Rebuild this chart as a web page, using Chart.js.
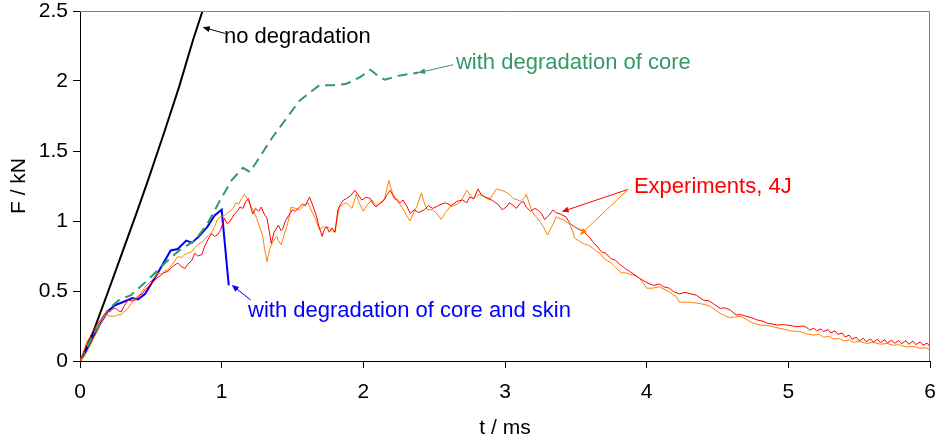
<!DOCTYPE html>
<html>
<head>
<meta charset="utf-8">
<script src="https://cdn.jsdelivr.net/npm/chart.js@4.4.1/dist/chart.umd.min.js"></script>
<style>
  html, body { margin: 0; padding: 0; background: #fff; }
  #wrap { width: 937px; height: 441px; }
</style>
</head>
<body>
<div id="wrap"><canvas id="forceChart"></canvas></div>
<script>
/* --------------------------------------
   DATA  (t in ms, F in kN)
-------------------------------------- */
const noDegradation = [
  [0, 0], [0.08, 0.17], [0.2, 0.5], [0.3, 0.78], [0.4, 1.06], [0.48, 1.29],
  [0.6, 1.65], [0.7, 1.96], [0.8, 2.3], [0.865, 2.5],
];

const coreDegradation = [
  [0, 0], [0.1, 0.2], [0.2, 0.37], [0.28, 0.44], [0.36, 0.47], [0.48, 0.58],
  [0.6, 0.7], [0.7, 0.79], [0.81, 0.86], [0.9, 0.98], [0.99, 1.15], [1.07, 1.29],
  [1.15, 1.38], [1.2, 1.35], [1.36, 1.6], [1.55, 1.86], [1.69, 1.97], [1.79, 1.97],
  [1.88, 1.98], [1.98, 2.03], [2.05, 2.08], [2.1, 2.04], [2.15, 2.01], [2.26, 2.04],
  [2.39, 2.06],
];

const coreSkinDegradation = [
  [0, 0], [0.06, 0.1], [0.13, 0.245], [0.2, 0.36], [0.25, 0.4], [0.3, 0.42],
  [0.37, 0.45], [0.41, 0.44], [0.46, 0.48], [0.55, 0.63], [0.64, 0.79], [0.69, 0.8],
  [0.75, 0.86], [0.79, 0.845], [0.84, 0.89], [0.9, 0.96], [0.95, 1.04], [1.0, 1.08],
  [1.05, 0.54],
];

const experimentRed = [
  [0, 0], [0.02, 0.04], [0.045, 0.126], [0.07, 0.17], [0.1, 0.23], [0.127, 0.27],
  [0.15, 0.3], [0.17, 0.33], [0.186, 0.34], [0.2, 0.36], [0.21, 0.35], [0.23, 0.37],
  [0.25, 0.376], [0.27, 0.36], [0.29, 0.35], [0.31, 0.39], [0.34, 0.436], [0.37, 0.43],
  [0.4, 0.44], [0.42, 0.47], [0.44, 0.48], [0.46, 0.51], [0.48, 0.53], [0.5, 0.55],
  [0.52, 0.57], [0.55, 0.6], [0.57, 0.61], [0.59, 0.63], [0.62, 0.64], [0.64, 0.66],
  [0.66, 0.68], [0.69, 0.7], [0.71, 0.68], [0.74, 0.66], [0.76, 0.69], [0.79, 0.72],
  [0.81, 0.77], [0.83, 0.75], [0.86, 0.76], [0.88, 0.82], [0.89, 0.84], [0.91, 0.88],
  [0.93, 0.91], [0.95, 0.89], [0.97, 0.9], [0.99, 0.93], [1.02, 1.02], [1.04, 0.98],
  [1.06, 1.0], [1.09, 1.05], [1.11, 1.07], [1.13, 1.1], [1.15, 1.09], [1.17, 1.14],
  [1.19, 1.16], [1.21, 1.08], [1.22, 1.05], [1.24, 1.09], [1.26, 1.07], [1.28, 1.1],
  [1.3, 1.05], [1.32, 1.02], [1.34, 0.9], [1.35, 0.84], [1.37, 0.92], [1.4, 0.97],
  [1.42, 0.93], [1.43, 0.94], [1.45, 1.0], [1.48, 1.05], [1.5, 1.08], [1.52, 1.07],
  [1.55, 1.1], [1.57, 1.12], [1.59, 1.11], [1.62, 1.17], [1.64, 1.12], [1.67, 1.03],
  [1.69, 0.95], [1.71, 0.89], [1.72, 0.93], [1.74, 0.96], [1.76, 0.92], [1.78, 0.95],
  [1.8, 0.92], [1.82, 1.08], [1.84, 1.12], [1.86, 1.15], [1.88, 1.16], [1.91, 1.18],
  [1.94, 1.22], [1.96, 1.19], [1.99, 1.15], [2.02, 1.17], [2.05, 1.16], [2.07, 1.12],
  [2.09, 1.1], [2.11, 1.12], [2.14, 1.14], [2.17, 1.19], [2.19, 1.22], [2.21, 1.18],
  [2.22, 1.16], [2.24, 1.15], [2.26, 1.13], [2.28, 1.15], [2.31, 1.1], [2.33, 1.055],
  [2.36, 1.08], [2.39, 1.06], [2.43, 1.08], [2.46, 1.11], [2.49, 1.09], [2.51, 1.1],
  [2.55, 1.12], [2.58, 1.13], [2.62, 1.11], [2.66, 1.14], [2.7, 1.15], [2.73, 1.13],
  [2.75, 1.17], [2.78, 1.16], [2.81, 1.23], [2.83, 1.19], [2.86, 1.17], [2.89, 1.16],
  [2.92, 1.14], [2.95, 1.12], [2.98, 1.08], [3.01, 1.1], [3.03, 1.13], [3.06, 1.11],
  [3.08, 1.09], [3.11, 1.13], [3.13, 1.14], [3.15, 1.1], [3.18, 1.07], [3.21, 1.09],
  [3.23, 1.08], [3.26, 1.05], [3.28, 1.01], [3.31, 1.04], [3.34, 1.08], [3.36, 1.06],
  [3.39, 1.05], [3.43, 1.03], [3.46, 0.98], [3.49, 0.96], [3.52, 0.94], [3.55, 0.93],
  [3.58, 0.9], [3.6, 0.88], [3.62, 0.85], [3.65, 0.82], [3.68, 0.78], [3.71, 0.77],
  [3.75, 0.73], [3.78, 0.72], [3.81, 0.69], [3.85, 0.66], [3.88, 0.64], [3.91, 0.62],
  [3.95, 0.59], [4.0, 0.56], [4.05, 0.54], [4.09, 0.55], [4.12, 0.53], [4.16, 0.52],
  [4.19, 0.495], [4.23, 0.48], [4.27, 0.49], [4.31, 0.48], [4.35, 0.47], [4.4, 0.435],
  [4.44, 0.43], [4.47, 0.41], [4.52, 0.376], [4.55, 0.38], [4.59, 0.364], [4.63, 0.33],
  [4.67, 0.33], [4.7, 0.32], [4.74, 0.31], [4.78, 0.293], [4.82, 0.285], [4.85, 0.27],
  [4.88, 0.265], [4.92, 0.257], [4.96, 0.26], [4.99, 0.257], [5.03, 0.25], [5.06, 0.245],
  [5.1, 0.25], [5.13, 0.24], [5.15, 0.22], [5.18, 0.235], [5.2, 0.215], [5.23, 0.23],
  [5.25, 0.21], [5.28, 0.225], [5.3, 0.2], [5.33, 0.215], [5.35, 0.19], [5.38, 0.2],
  [5.4, 0.172], [5.43, 0.185], [5.45, 0.155], [5.48, 0.17], [5.5, 0.145], [5.53, 0.162],
  [5.55, 0.138], [5.58, 0.158], [5.6, 0.135], [5.63, 0.155], [5.65, 0.131], [5.68, 0.152],
  [5.7, 0.128], [5.73, 0.15], [5.75, 0.126], [5.78, 0.147], [5.8, 0.123], [5.83, 0.145],
  [5.85, 0.12], [5.88, 0.142], [5.9, 0.117], [5.93, 0.138], [5.95, 0.112], [5.98, 0.128],
  [6.0, 0.1],
];

const experimentOrange = [
  [0, 0], [0.03, 0.03], [0.056, 0.08], [0.08, 0.13], [0.1, 0.17], [0.127, 0.22],
  [0.15, 0.27], [0.17, 0.32], [0.19, 0.33], [0.21, 0.32], [0.245, 0.32], [0.27, 0.33],
  [0.29, 0.33], [0.31, 0.35], [0.34, 0.376], [0.36, 0.41], [0.39, 0.45], [0.42, 0.47],
  [0.44, 0.5], [0.46, 0.53], [0.49, 0.56], [0.52, 0.59], [0.55, 0.63], [0.58, 0.62],
  [0.6, 0.645], [0.62, 0.65], [0.65, 0.69], [0.69, 0.745], [0.72, 0.74], [0.74, 0.76],
  [0.76, 0.77], [0.79, 0.78], [0.81, 0.81], [0.83, 0.83], [0.86, 0.85], [0.89, 0.88],
  [0.91, 0.9], [0.93, 0.92], [0.95, 0.96], [0.97, 1.01], [0.99, 1.03], [1.02, 1.04],
  [1.04, 1.06], [1.06, 1.07], [1.08, 1.09], [1.1, 1.13], [1.12, 1.12], [1.14, 1.16],
  [1.16, 1.19], [1.18, 1.16], [1.21, 1.1], [1.23, 1.06], [1.25, 1.01], [1.27, 0.95],
  [1.29, 0.89], [1.3, 0.82], [1.32, 0.71], [1.33, 0.76], [1.34, 0.8], [1.36, 0.85],
  [1.39, 0.89], [1.4, 0.86], [1.42, 0.83], [1.44, 0.9], [1.46, 0.96], [1.48, 1.04],
  [1.49, 1.1], [1.52, 1.09], [1.55, 1.08], [1.58, 1.11], [1.61, 1.13], [1.63, 1.08],
  [1.66, 1.02], [1.69, 0.94], [1.72, 0.96], [1.76, 0.95], [1.78, 0.93], [1.8, 0.92],
  [1.83, 1.1], [1.86, 1.12], [1.88, 1.13], [1.92, 1.09], [1.95, 1.19], [1.97, 1.13],
  [2.0, 1.07], [2.03, 1.12], [2.06, 1.15], [2.09, 1.11], [2.12, 1.13], [2.15, 1.16],
  [2.18, 1.29], [2.19, 1.25], [2.21, 1.19], [2.25, 1.13], [2.27, 1.1], [2.29, 1.07],
  [2.31, 1.03], [2.33, 1.0], [2.35, 1.05], [2.38, 1.11], [2.41, 1.2], [2.43, 1.13],
  [2.45, 1.08], [2.49, 1.08], [2.52, 1.05], [2.55, 1.01], [2.58, 1.06], [2.61, 1.1],
  [2.64, 1.11], [2.68, 1.13], [2.71, 1.18], [2.73, 1.22], [2.76, 1.18], [2.78, 1.16],
  [2.8, 1.18], [2.82, 1.19], [2.86, 1.17], [2.89, 1.15], [2.92, 1.2], [2.94, 1.23],
  [2.97, 1.22], [3.0, 1.21], [3.03, 1.19], [3.06, 1.16], [3.09, 1.15], [3.11, 1.14],
  [3.14, 1.17], [3.15, 1.19], [3.18, 1.1], [3.19, 1.07], [3.21, 1.04], [3.23, 1.02],
  [3.25, 0.99], [3.27, 0.96], [3.3, 0.9], [3.32, 0.94], [3.34, 0.98], [3.36, 1.03],
  [3.38, 1.02], [3.41, 1.01], [3.44, 0.99], [3.46, 0.97], [3.48, 0.92], [3.49, 0.88],
  [3.52, 0.86], [3.55, 0.84], [3.58, 0.83], [3.6, 0.82], [3.64, 0.79], [3.67, 0.77],
  [3.7, 0.73], [3.75, 0.7], [3.78, 0.67], [3.82, 0.63], [3.85, 0.63], [3.88, 0.62],
  [3.92, 0.61], [3.95, 0.59], [3.98, 0.55], [4.0, 0.52], [4.04, 0.52], [4.09, 0.53],
  [4.13, 0.51], [4.16, 0.495], [4.19, 0.47], [4.21, 0.46], [4.23, 0.42], [4.27, 0.42],
  [4.3, 0.42], [4.34, 0.415], [4.38, 0.41], [4.42, 0.4], [4.45, 0.39], [4.49, 0.36],
  [4.52, 0.34], [4.56, 0.32], [4.59, 0.31], [4.63, 0.315], [4.66, 0.32], [4.7, 0.3],
  [4.73, 0.28], [4.77, 0.265], [4.8, 0.257], [4.84, 0.255], [4.87, 0.25], [4.91, 0.24],
  [4.94, 0.233], [4.98, 0.225], [5.01, 0.216], [5.05, 0.213], [5.08, 0.21], [5.13, 0.193],
  [5.18, 0.185], [5.22, 0.19], [5.25, 0.17], [5.29, 0.175], [5.32, 0.157], [5.36, 0.16],
  [5.39, 0.146], [5.43, 0.15], [5.46, 0.133], [5.5, 0.14], [5.55, 0.126], [5.6, 0.132],
  [5.65, 0.12], [5.7, 0.125], [5.74, 0.112], [5.78, 0.116], [5.83, 0.1], [5.88, 0.105],
  [5.93, 0.09], [5.97, 0.095], [6.0, 0.08],
];

const xTicks = [0, 1, 2, 3, 4, 5, 6];
const yTicks = [0, 0.5, 1, 1.5, 2, 2.5];

/* annotation texts with arrows (data coordinates) */
const notes = [
  { text: "no degradation", color: "#000000", at: [1.016, 2.269],
    arrows: [{ from: [1.023, 2.34], to: [0.866, 2.384], color: "#000000" }] },
  { text: "with degradation of core", color: "#339966", at: [2.654, 2.083],
    arrows: [{ from: [2.634, 2.116], to: [2.387, 2.059], color: "#339966" }] },
  { text: "Experiments, 4J", color: "#ff0000", at: [3.91, 1.198],
    arrows: [
      { from: [3.869, 1.226], to: [3.4, 1.066], color: "#ff0000" },
      { from: [3.869, 1.226], to: [3.529, 0.9], color: "#ff8000" },
    ] },
  { text: "with degradation of core and skin", color: "#0000ff", at: [1.186, 0.312],
    arrows: [{ from: [1.205, 0.436], to: [1.071, 0.543], color: "#0000ff" }] },
];

const FONT = '"Liberation Sans", Arial, sans-serif';

function toXY(pairs) {
  return pairs.map((p) => ({ x: p[0], y: p[1] }));
}

function drawArrow(ctx, x1, y1, x2, y2, color) {
  const ang = Math.atan2(y2 - y1, x2 - x1);
  const len = 7, wid = 3;
  ctx.strokeStyle = color;
  ctx.fillStyle = color;
  ctx.lineWidth = 1;
  ctx.beginPath();
  ctx.moveTo(x1, y1);
  ctx.lineTo(x2 - Math.cos(ang) * len * 0.6, y2 - Math.sin(ang) * len * 0.6);
  ctx.stroke();
  ctx.beginPath();
  ctx.moveTo(x2, y2);
  ctx.lineTo(x2 - Math.cos(ang) * len - Math.sin(ang) * wid, y2 - Math.sin(ang) * len + Math.cos(ang) * wid);
  ctx.lineTo(x2 - Math.cos(ang) * len + Math.sin(ang) * wid, y2 - Math.sin(ang) * len - Math.cos(ang) * wid);
  ctx.closePath();
  ctx.fill();
}

/* plot frame (top/right) + annotations */
const frameAndNotes = {
  id: "frameAndNotes",
  afterDatasetsDraw(chart) {
    const { ctx, chartArea: a, scales } = chart;
    const sx = scales.x, sy = scales.y;
    ctx.save();
    ctx.strokeStyle = "#808080";
    ctx.lineWidth = 1;
    ctx.beginPath();
    ctx.moveTo(a.left, a.top + 0.5);
    ctx.lineTo(a.right - 0.5, a.top + 0.5);
    ctx.lineTo(a.right - 0.5, a.bottom);
    ctx.stroke();

    ctx.font = "22px " + FONT;
    ctx.textBaseline = "alphabetic";
    ctx.textAlign = "left";
    notes.forEach((n) => {
      ctx.fillStyle = n.color;
      ctx.fillText(n.text, sx.getPixelForValue(n.at[0]), sy.getPixelForValue(n.at[1]));
      n.arrows.forEach((ar) => {
        drawArrow(
          ctx,
          sx.getPixelForValue(ar.from[0]), sy.getPixelForValue(ar.from[1]),
          sx.getPixelForValue(ar.to[0]), sy.getPixelForValue(ar.to[1]),
          ar.color
        );
      });
    });
    ctx.restore();
  },
};

function lineSet(label, pairs, color, width, extra) {
  return Object.assign(
    {
      label,
      data: toXY(pairs),
      borderColor: color,
      backgroundColor: color,
      borderWidth: width,
      pointRadius: 0,
      tension: 0,
      fill: false,
    },
    extra || {}
  );
}

new Chart(document.getElementById("forceChart"), {
  type: "line",
  data: {
    datasets: [
      lineSet("Experiment A", experimentRed, "#ff0000", 1),
      lineSet("Experiment B", experimentOrange, "#ff8000", 1),
      lineSet("with degradation of core", coreDegradation, "#339966", 2, { borderDash: [10, 6] }),
      lineSet("with degradation of core and skin", coreSkinDegradation, "#0000ff", 2),
      lineSet("no degradation", noDegradation, "#000000", 2),
    ],
  },
  options: {
    responsive: true,
    maintainAspectRatio: false,
    animation: false,
    layout: { padding: { top: 11, right: 7, left: 0, bottom: 0 } },
    plugins: {
      legend: { display: false },
      tooltip: { enabled: false },
    },
    scales: {
      x: {
        type: "linear",
        min: 0,
        max: 6,
        afterBuildTicks: (s) => { s.ticks = xTicks.map((v) => ({ value: v })); },
        afterFit: (s) => { s.height = 80; s.paddingLeft = 0; s.paddingRight = 0; },
        grid: { drawOnChartArea: false, drawTicks: true, tickLength: 7, color: "#000" },
        border: { display: true, color: "#000", width: 1 },
        ticks: { color: "#000", font: { size: 21, family: FONT }, padding: 12, maxRotation: 0,
                 callback: (v) => String(v) },
        title: { display: true, text: "t / ms", color: "#000", font: { size: 21, family: FONT }, padding: 0 },
      },
      y: {
        type: "linear",
        min: 0,
        max: 2.5,
        afterBuildTicks: (s) => { s.ticks = yTicks.map((v) => ({ value: v })); },
        afterFit: (s) => { s.width = 80; s.paddingTop = 0; s.paddingBottom = 0; },
        grid: { drawOnChartArea: false, drawTicks: true, tickLength: 7, color: "#000" },
        border: { display: true, color: "#000", width: 1 },
        ticks: { color: "#000", font: { size: 21, family: FONT }, padding: 5,
                 callback: (v) => String(v) },
        title: { display: true, text: "F / kN", color: "#000", font: { size: 21, family: FONT }, padding: 7 },
      },
    },
  },
  plugins: [frameAndNotes],
});
</script>
</body>
</html>
